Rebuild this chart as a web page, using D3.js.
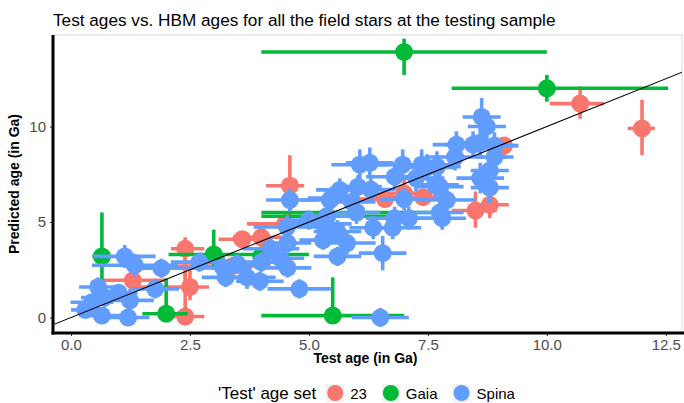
<!DOCTYPE html>
<html>
<head>
<meta charset="utf-8">
<script src="https://cdn.jsdelivr.net/npm/d3@7"></script>
<style>
  body { margin: 0; background: #fff; }
  text { font-family: "Liberation Sans", Arial, sans-serif; }
</style>
</head>
<body>
<div class="canvas"></div>
<script>
// ---- data ----
const seriesNames = ["23", "Gaia", "Spina"]
const seriesColors = ["#F8766D", "#00BA38", "#619CFF"]

const xTicks = [0, 2.5, 5, 7.5, 10, 12.5]
const yTicks = [0, 5, 10]

// Spina: symmetric errors
const spinaX = [0.44, 0.65, 0.71, 0.57, 1.2, 1.24, 1.13, 1.34, 1.9, 1.77, 1.0, 0.3, 2.7, 3.2, 3.25, 3.5, 3.7, 3.97, 4.0, 4.8,
    4.2, 4.55, 4.4, 4.55, 4.54, 4.6, 5.3, 5.3, 5.8, 5.6, 6.55, 6.5, 5.44, 5.65, 6.07, 6.28, 6.97, 7.37, 7.69, 6.03,
    5.48, 5.9, 6.8, 7.25, 7.65, 7.9, 6.8, 7.1, 7.8, 6.76, 5.38, 6.35, 5.6, 8.1, 8.45, 8.63, 8.74, 8.6, 8.9, 7.48,
    8.07, 8.9, 8.8, 8.6, 7.75, 7.75, 8.8, 7.0, 6.3, 5.0, 6.0]
const spinaY = [0.8, 0.1, 1.05, 1.6, 0.0, 0.9, 3.2, 2.74, 2.58, 1.5, 1.3, 0.4, 2.9, 2.6, 2.1, 2.8, 2.1, 1.9, 2.9, 1.5,
    3.6, 3.9, 3.1, 2.6, 4.74, 6.15, 4.9, 4.05, 3.9, 3.2, 3.37, 0.0, 6.15, 6.68, 8.0, 8.1, 8.0, 8.0, 7.9, 6.85,
    6.26, 6.05, 7.37, 7.3, 6.95, 6.15, 5.2, 5.2, 5.2, 4.7, 5.3, 4.7, 4.5, 9.05, 9.05, 10.5, 10.0, 9.15, 9.0, 7.85,
    8.4, 8.4, 7.7, 7.3, 6.85, 5.5, 6.8, 6.2, 6.7, 5.1, 5.5]
const spinaXErr = [0.45, 0.4, 0.5, 0.4, 0.45, 0.5, 0.65, 0.9, 0.7, 0.5, 0.4, 0.3, 0.6, 0.6, 0.5, 0.5, 0.6, 0.5, 0.5, 0.67,
    0.6, 0.5, 0.5, 0.5, 0.7, 0.5, 0.6, 0.5, 0.6, 0.5, 0.5, 0.6, 0.6, 0.5, 0.6, 0.5, 0.6, 0.6, 0.5, 0.5,
    0.5, 0.5, 0.6, 0.6, 0.5, 0.6, 0.6, 0.5, 0.5, 0.6, 0.5, 0.5, 0.5, 0.5, 0.6, 0.4, 0.4, 0.5, 0.5, 0.6,
    0.6, 0.4, 0.4, 0.5, 0.5, 0.5, 0.4, 0.5, 0.5, 0.5, 0.5]
const spinaYErr = [0.4, 0.3, 0.5, 0.5, 0.3, 0.6, 0.6, 0.6, 0.5, 0.5, 0.4, 0.3, 0.5, 0.6, 0.5, 0.5, 0.6, 0.5, 0.5, 0.5,
    0.6, 0.5, 0.5, 0.5, 0.6, 0.6, 0.6, 0.5, 0.6, 0.5, 0.9, 0.5, 0.6, 0.6, 0.8, 0.8, 0.8, 0.8, 0.8, 0.6,
    0.6, 0.6, 0.7, 0.7, 0.7, 0.7, 0.6, 0.6, 0.6, 0.6, 0.6, 0.6, 0.6, 0.7, 0.7, 1.0, 0.8, 0.8, 0.7, 0.7,
    0.7, 0.8, 0.8, 0.8, 0.7, 0.6, 0.8, 0.6, 0.6, 0.5, 0.6]

// Gaia: explicit ranges
const gaiaX = [7.0, 10.0, 0.65, 2.0, 3.0, 4.0, 5.5, 6.0, 5.38]
const gaiaY = [13.9, 12.0, 3.2, 0.2, 3.3, 3.2, 0.1, 5.5, 5.3]
const gaiaXMin = [4.0, 8.0, 0.45, 1.5, 2.05, 3.85, 4.0, 4.0, 4.0]
const gaiaXMax = [10.0, 12.55, 0.85, 2.45, 5.0, 4.15, 7.0, 7.95, 6.9]
const gaiaYMin = [12.7, 11.3, 1.8, -0.1, 2.5, 2.6, -0.3, 5.2, 4.9]
const gaiaYMax = [14.6, 12.7, 5.5, 2.05, 4.6, 3.7, 2.1, 5.8, 5.6]

// "23": explicit ranges
const set23X = [10.7, 12.0, 8.5, 8.8, 9.1, 7.0, 6.6, 4.6, 4.0, 4.5, 2.4, 2.4, 1.3, 2.5, 3.4, 3.6, 7.4]
const set23Y = [11.2, 9.9, 5.6, 5.9, 9.0, 6.5, 6.2, 6.9, 4.2, 4.9, 3.6, 0.05, 1.95, 1.6, 2.7, 4.1, 6.3]
const set23XMin = [10.06, 11.7, 8.0, 8.5, 8.75, 6.5, 5.8, 4.1, 3.4, 3.7, 2.1, 2.0, 0.6, 1.25, 2.1, 3.1, 6.4]
const set23XMax = [11.2, 12.27, 8.95, 9.2, 9.4, 7.6, 7.5, 4.9, 4.6, 5.2, 2.8, 2.8, 2.0, 2.9, 4.2, 4.1, 8.0]
const set23YMin = [10.4, 8.5, 4.7, 5.2, 8.3, 5.8, 5.9, 4.0, 3.6, 4.3, 2.0, -0.1, 1.6, 0.9, 2.3, 3.6, 6.0]
const set23YMax = [12.1, 11.4, 6.6, 6.6, 9.4, 7.2, 6.6, 8.5, 4.8, 5.4, 4.2, 4.0, 2.3, 2.6, 3.1, 4.5, 6.5]

// ---- build rows ----
const rows23 = set23X.map((x, i) => ({ set: "23", x, y: set23Y[i], xmin: set23XMin[i], xmax: set23XMax[i], ymin: set23YMin[i], ymax: set23YMax[i] }))
const rowsGaia = gaiaX.map((x, i) => ({ set: "Gaia", x, y: gaiaY[i], xmin: gaiaXMin[i], xmax: gaiaXMax[i], ymin: gaiaYMin[i], ymax: gaiaYMax[i] }))
const rowsSpina = spinaX.map((x, i) => ({ set: "Spina", x, y: spinaY[i], xmin: x - spinaXErr[i], xmax: x + spinaXErr[i], ymin: spinaY[i] - spinaYErr[i], ymax: spinaY[i] + spinaYErr[i] }))

const width = 684, height = 403
const margin = { top: 35, right: 2, bottom: 70, left: 53 }
const graphWidth = width - margin.left - margin.right
const graphHeight = height - margin.top - margin.bottom

const svg = d3.select(".canvas")
    .append("svg")
    .attr("width", width)
    .attr("height", height)

const color = d3.scaleOrdinal().domain(seriesNames).range(seriesColors)

const scaleX = d3.scaleLinear()
    .domain([-0.378, 12.84])
    .range([0, graphWidth])
const scaleY = d3.scaleLinear()
    .domain([-0.81, 14.79])
    .range([graphHeight, 0])

const graph = svg.append("g")
    .attr("transform", `translate(${margin.left}, ${margin.top})`)

svg.append("defs").append("clipPath").attr("id", "panel")
    .append("rect").attr("width", graphWidth).attr("height", graphHeight)

// light panel border (top / right)
graph.append("rect")
    .attr("width", graphWidth)
    .attr("height", graphHeight)
    .attr("fill", "none")
    .attr("stroke", "#d9d9d9")
    .attr("stroke-width", 1)

const plot = graph.append("g").attr("clip-path", "url(#panel)")

// draw order: 23, Gaia, Spina
const groups = [rows23, rowsGaia, rowsSpina]
groups.forEach(rows => {
    const g = plot.append("g")
    g.selectAll("line.v")
        .data(rows)
        .enter()
        .append("line")
        .attr("x1", d => scaleX(d.x))
        .attr("x2", d => scaleX(d.x))
        .attr("y1", d => scaleY(d.ymin))
        .attr("y2", d => scaleY(d.ymax))
        .attr("stroke", d => color(d.set))
        .attr("stroke-width", 3.6)
    g.selectAll("line.h")
        .data(rows)
        .enter()
        .append("line")
        .attr("x1", d => scaleX(d.xmin))
        .attr("x2", d => scaleX(d.xmax))
        .attr("y1", d => scaleY(d.y))
        .attr("y2", d => scaleY(d.y))
        .attr("stroke", d => color(d.set))
        .attr("stroke-width", 3.6)
    g.selectAll("circle")
        .data(rows)
        .enter()
        .append("circle")
        .attr("cx", d => scaleX(d.x))
        .attr("cy", d => scaleY(d.y))
        .attr("r", 9)
        .attr("fill", d => color(d.set))
})

// identity line
plot.append("line")
    .attr("x1", scaleX(-1))
    .attr("y1", scaleY(-1))
    .attr("x2", scaleX(14))
    .attr("y2", scaleY(14))
    .attr("stroke", "black")
    .attr("stroke-width", 1.1)

// axes
const xAxis = d3.axisBottom(scaleX)
    .tickValues(xTicks)
    .tickFormat(d3.format(".1f"))
    .tickSize(3)
    .tickPadding(3)
const yAxis = d3.axisLeft(scaleY)
    .tickValues(yTicks)
    .tickFormat(d3.format("d"))
    .tickSize(3)
    .tickPadding(4)

const xAxisGroup = graph.append("g")
    .attr("transform", `translate(0, ${graphHeight})`)
    .call(xAxis)
const yAxisGroup = graph.append("g").call(yAxis)

;[xAxisGroup, yAxisGroup].forEach(ax => {
    ax.select(".domain").remove()
    ax.selectAll(".tick line").attr("stroke", "#333").attr("stroke-width", 1)
    ax.selectAll(".tick text")
        .attr("fill", "#4d4d4d")
        .style("font-size", "15px")
        .style("font-family", "Liberation Sans, Arial, sans-serif")
})

// thick axis lines
graph.append("line")
    .attr("x1", -1.5).attr("x2", graphWidth + 2)
    .attr("y1", graphHeight).attr("y2", graphHeight)
    .attr("stroke", "black").attr("stroke-width", 3)
graph.append("line")
    .attr("x1", 0).attr("x2", 0)
    .attr("y1", 0).attr("y2", graphHeight + 1.5)
    .attr("stroke", "black").attr("stroke-width", 3)

// titles
svg.append("text")
    .attr("x", margin.left)
    .attr("y", 26)
    .style("font-size", "17.2px")
    .text("Test ages vs. HBM ages for all the field stars at the testing sample")

svg.append("text")
    .attr("x", margin.left + graphWidth / 2 - 2)
    .attr("y", 363)
    .attr("text-anchor", "middle")
    .style("font-size", "14px")
    .style("font-weight", "bold")
    .text("Test age (in Ga)")

svg.append("text")
    .attr("transform", `translate(19, ${margin.top + graphHeight / 2}) rotate(-90)`)
    .attr("text-anchor", "middle")
    .style("font-size", "14px")
    .style("font-weight", "bold")
    .text("Predicted age (in Ga)")

// legend
const legend = svg.append("g").attr("transform", "translate(218, 393)")
const legTitle = legend.append("text")
    .attr("x", 0).attr("y", 6)
    .style("font-size", "17px")
    .text("'Test' age set")
let cursor = legTitle.node().getComputedTextLength() + 10
seriesNames.forEach(name => {
    legend.append("rect")
        .attr("x", cursor).attr("y", -9)
        .attr("width", 18).attr("height", 18)
        .attr("fill", "#f2f2f2")
    legend.append("circle")
        .attr("cx", cursor + 9).attr("cy", 0)
        .attr("r", 8)
        .attr("fill", color(name))
    const t = legend.append("text")
        .attr("x", cursor + 24).attr("y", 5.5)
        .style("font-size", "15px")
        .text(name)
    cursor += 24 + t.node().getComputedTextLength() + 15
})
</script>
</body>
</html>
